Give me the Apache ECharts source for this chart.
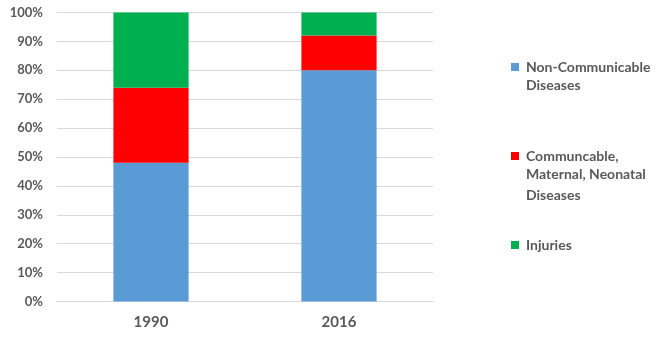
<!DOCTYPE html>
<html><head><meta charset="utf-8">
<script src="https://cdn.jsdelivr.net/npm/echarts@6/dist/echarts.min.js"></script>
<style>html,body{margin:0;padding:0;background:#fff}#c{width:672px;height:339px}</style>
</head><body><div id="c"></div>
<script>
const categories = ['1990', '2016'];
const ncd = [48, 80];
const cmn = [26, 12];
const injuries = [26, 8];
const seriesNames = ['Non-Communicable Diseases', 'Communcable, Maternal, Neonatal Diseases', 'Injuries'];
const legendFirstLines = ['Non-Communicable', 'Communcable,', 'Injuries'];
const legendRestLines = ['Diseases', 'Maternal, Neonatal\nDiseases', ''];
const colors = ['#5b9bd5', '#ff0000', '#00b050'];
const yTicks = [0, 10, 20, 30, 40, 50, 60, 70, 80, 90, 100];

const FONT = 'Lato';
const TXT = '#595959';
const legendCenters = [64, 153, 242];
const chart = echarts.init(document.getElementById('c'));
const legends = seriesNames.map((n, i) => ({
  data: [n], left: 511, top: legendCenters[i] - 4, orient: 'vertical', padding: 0,
  itemWidth: 8, itemHeight: 8, itemGap: 0, icon: 'rect', selectedMode: false,
  formatter: () => legendFirstLines[i],
  textStyle: { fontFamily: FONT, fontWeight: 'bold', fontSize: 14, color: TXT, padding: [0, 0, 0, 2] }
}));
const graphics = legendRestLines.map((t, i) => t ? ({
  type: 'text', left: 526, top: legendCenters[i] + 10.5,
  style: { text: t, fontFamily: FONT, fontWeight: 'bold', fontSize: 14, fill: TXT, lineHeight: 21 }
}) : null).filter(Boolean);
const data = [ncd, cmn, injuries];
chart.setOption({
  animation: false,
  grid: { left: 57, right: 239, top: 12.5, bottom: 37.5 },
  legend: legends,
  graphic: graphics,
  xAxis: {
    type: 'category', data: categories,
    axisLine: { show: true, lineStyle: { color: '#d9d9d9' } },
    axisTick: { show: false },
    axisLabel: { fontFamily: FONT, fontWeight: 'bold', fontSize: 15, color: TXT, margin: 13 }
  },
  yAxis: {
    type: 'value', min: yTicks[0], max: yTicks[yTicks.length - 1], interval: 10,
    axisLine: { show: false }, axisTick: { show: false },
    splitLine: { lineStyle: { color: '#d9d9d9', width: 1 } },
    axisLabel: { fontFamily: FONT, fontWeight: 'bold', fontSize: 13, color: TXT, margin: 14, formatter: v => v + '%' }
  },
  series: seriesNames.map((n, i) => ({
    name: n, type: 'bar', stack: 'total', data: data[i], barWidth: '40%',
    itemStyle: { color: colors[i] }
  }))
});
</script></body></html>
